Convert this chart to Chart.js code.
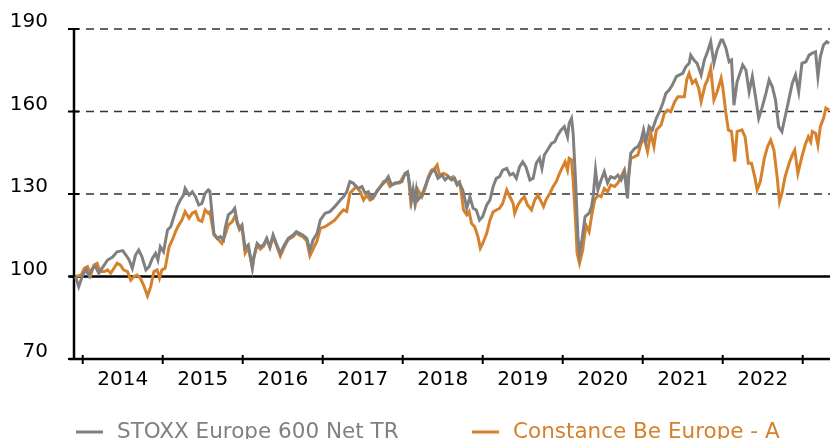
<!DOCTYPE html>
<html>
<head>
<meta charset="utf-8">
<script src="https://cdn.jsdelivr.net/npm/chart.js@4"></script>
<style>
  html, body { margin: 0; padding: 0; background: #fff; }
  canvas { display: block; }
</style>
</head>
<body>
<canvas id="perfChart" width="830" height="439"></canvas>
<script>
// series names and tick labels
var seriesNames = ['STOXX Europe 600 Net TR', 'Constance Be Europe - A'];
var yearLabels = ['2014', '2015', '2016', '2017', '2018', '2019', '2020', '2021', '2022'];
var yTicks = [70, 100, 130, 160, 190];

// STOXX Europe 600 Net TR (rebased 100), dates as decimal years
var stoxxDates = [
  2013.91, 2013.95,
  2014.00, 2014.04, 2014.08, 2014.12, 2014.16, 2014.20, 2014.27, 2014.31, 2014.37, 2014.43, 2014.50, 2014.54, 2014.58, 2014.62, 2014.66, 2014.70, 2014.74, 2014.79, 2014.83, 2014.87, 2014.91, 2014.94, 2014.97,
  2015.01, 2015.06, 2015.10, 2015.14, 2015.18, 2015.22, 2015.26, 2015.28, 2015.33, 2015.37, 2015.41, 2015.45, 2015.49, 2015.53, 2015.57, 2015.59, 2015.61, 2015.64, 2015.68, 2015.72, 2015.76, 2015.78, 2015.82, 2015.87, 2015.90, 2015.93, 2015.96, 2015.99,
  2016.03, 2016.07, 2016.12, 2016.14, 2016.18, 2016.22, 2016.26, 2016.30, 2016.34, 2016.38, 2016.42, 2016.47, 2016.52, 2016.57, 2016.63, 2016.67, 2016.71, 2016.75, 2016.80, 2016.84, 2016.88, 2016.93, 2016.97,
  2017.03, 2017.09, 2017.15, 2017.22, 2017.26, 2017.30, 2017.34, 2017.38, 2017.44, 2017.49, 2017.53, 2017.57, 2017.61, 2017.65, 2017.69, 2017.74, 2017.78, 2017.82, 2017.86, 2017.92, 2017.99,
  2018.03, 2018.06, 2018.09, 2018.11, 2018.13, 2018.15, 2018.17, 2018.19, 2018.24, 2018.28, 2018.32, 2018.36, 2018.40, 2018.44, 2018.49, 2018.53, 2018.57, 2018.61, 2018.65, 2018.68, 2018.71, 2018.75, 2018.78, 2018.80, 2018.84, 2018.88, 2018.92, 2018.96,
  2019.00, 2019.05, 2019.09, 2019.13, 2019.17, 2019.21, 2019.25, 2019.30, 2019.34, 2019.38, 2019.42, 2019.46, 2019.50, 2019.54, 2019.59, 2019.63, 2019.67, 2019.71, 2019.74, 2019.77, 2019.81, 2019.86, 2019.90, 2019.94, 2019.98,
  2020.02, 2020.06, 2020.08, 2020.11, 2020.13, 2020.16, 2020.19, 2020.21, 2020.24, 2020.28, 2020.33, 2020.36, 2020.38, 2020.41, 2020.44, 2020.48, 2020.52, 2020.56, 2020.60, 2020.65, 2020.69, 2020.73, 2020.77, 2020.81, 2020.83, 2020.85, 2020.90, 2020.94, 2020.98,
  2021.01, 2021.04, 2021.08, 2021.12, 2021.17, 2021.21, 2021.25, 2021.29, 2021.33, 2021.37, 2021.42, 2021.46, 2021.50, 2021.54, 2021.58, 2021.60, 2021.64, 2021.68, 2021.73, 2021.77, 2021.81, 2021.85, 2021.89, 2021.93, 2021.98,
  2022.00, 2022.04, 2022.08, 2022.11, 2022.14, 2022.18, 2022.25, 2022.29, 2022.33, 2022.37, 2022.41, 2022.45, 2022.49, 2022.54, 2022.58, 2022.62, 2022.66, 2022.70, 2022.74, 2022.78, 2022.83, 2022.87, 2022.91, 2022.95, 2022.99,
  2023.04, 2023.08, 2023.12, 2023.16, 2023.19, 2023.22, 2023.26, 2023.30, 2023.33
];
var stoxxValues = [
  100, 96.3,
  100.5, 102.4, 100.2, 103, 103.6, 101.2, 104.2, 106, 107, 109, 109.4, 107.8, 106, 103, 107.8, 109.6, 107.2, 102.4, 103.6, 106.6, 108.4, 106, 110.8,
  109, 116.9, 118.1, 121.8, 125.4, 127.8, 129.6, 132, 129.6, 130.8, 129, 126, 126.6, 130.3, 131.5, 131, 124.8, 115.7, 113.9, 114.5, 113.3, 117.5, 122.4, 123.6, 124.8, 120, 117.5, 118.7,
  110.3, 111.5, 103, 107.2, 112, 110.8, 111.5, 113.9, 110.8, 115.1, 112, 108.4, 111.5, 113.9, 115.1, 116.3, 115.7, 115.1, 113.9, 109.6, 113.3, 115.7, 120.5,
  123, 123.6, 125.4, 127.8, 129, 130.8, 134.5, 134, 132, 132.7, 130.3, 130.8, 128.4, 129.6, 131.5, 133.3, 134.5, 136.3, 133.3, 134, 134.5,
  137.5, 138.1, 132.7, 127.8, 131.5, 127.2, 131.5, 127.8, 129.6, 132.7, 135.7, 138.1, 138.7, 135.7, 136.9, 135.1, 136.3, 135.1, 135.7, 133.3, 134, 131.5, 127.8, 124.8, 129, 124.8, 124.2, 120.5,
  121.8, 126, 127.8, 132.7, 135.7, 136.3, 138.7, 139.3, 136.9, 137.5, 135.7, 139.9, 141.7, 139.9, 135.1, 135.7, 141.2, 143, 139.3, 144.2, 146, 148.4, 149, 151.5, 153.3,
  154.5, 150.8, 155.7, 157.5, 152.1, 135.1, 114.5, 108.4, 113.3, 121.8, 123, 125.4, 129, 138.7, 131.5, 135.1, 138.1, 134, 136.3, 135.7, 136.9, 135.1, 138.1, 128.4, 138.7, 144.8, 146.6, 147.2, 149.6,
  153.3, 149, 154.5, 153.3, 157.5, 159.9, 162.9, 166.6, 167.8, 169.6, 172.7, 173.3, 173.9, 176.3, 177.5, 180.5, 178.7, 177.5, 173.3, 178.7, 181.7, 185.4, 177.5, 182.4, 186,
  186, 183, 178.1, 178.7, 162.3, 170.8, 176.9, 175.1, 167.2, 172.7, 165.4, 157.5, 161.2, 166.6, 171.5, 169, 164.2, 154.5, 152.7, 158.1, 164.8, 170.3, 173.3, 167.2, 177.5,
  178.1, 180.5, 181.2, 181.7, 172.7, 179.9, 184.2, 185.4, 184.8
];

// Constance Be Europe - A (rebased 100)
var fundDates = [
  2013.91, 2013.98,
  2014.02, 2014.06, 2014.10, 2014.14, 2014.18, 2014.22, 2014.27, 2014.31, 2014.35, 2014.39, 2014.43, 2014.47, 2014.51, 2014.56, 2014.60, 2014.64, 2014.68, 2014.72, 2014.76, 2014.81, 2014.85, 2014.89, 2014.93, 2014.96, 2014.99,
  2015.03, 2015.08, 2015.12, 2015.16, 2015.20, 2015.24, 2015.28, 2015.33, 2015.37, 2015.41, 2015.45, 2015.49, 2015.53, 2015.57, 2015.59, 2015.64, 2015.70, 2015.74, 2015.78, 2015.82, 2015.87, 2015.91, 2015.93, 2015.96, 2015.99,
  2016.03, 2016.07, 2016.12, 2016.14, 2016.18, 2016.22, 2016.26, 2016.30, 2016.34, 2016.38, 2016.42, 2016.47, 2016.52, 2016.57, 2016.63, 2016.67, 2016.71, 2016.75, 2016.80, 2016.84, 2016.88, 2016.93, 2016.97,
  2017.03, 2017.09, 2017.15, 2017.22, 2017.26, 2017.30, 2017.34, 2017.38, 2017.42, 2017.47, 2017.51, 2017.55, 2017.59, 2017.63, 2017.67, 2017.72, 2017.76, 2017.80, 2017.84, 2017.90, 2017.96,
  2018.03, 2018.07, 2018.10, 2018.13, 2018.16, 2018.19, 2018.24, 2018.28, 2018.32, 2018.36, 2018.40, 2018.43, 2018.46, 2018.51, 2018.55, 2018.59, 2018.63, 2018.67, 2018.71, 2018.73, 2018.76, 2018.80, 2018.83, 2018.86, 2018.90, 2018.94, 2018.97,
  2019.00, 2019.05, 2019.09, 2019.13, 2019.17, 2019.21, 2019.25, 2019.30, 2019.34, 2019.38, 2019.40, 2019.44, 2019.48, 2019.52, 2019.56, 2019.61, 2019.65, 2019.69, 2019.73, 2019.76, 2019.79, 2019.84, 2019.88, 2019.92, 2019.96,
  2020.00, 2020.03, 2020.06, 2020.08, 2020.11, 2020.13, 2020.16, 2020.18, 2020.21, 2020.25, 2020.29, 2020.33, 2020.36, 2020.40, 2020.44, 2020.48, 2020.52, 2020.56, 2020.60, 2020.65, 2020.69, 2020.73, 2020.77, 2020.81, 2020.85, 2020.90, 2020.94, 2020.98,
  2021.02, 2021.06, 2021.10, 2021.14, 2021.17, 2021.23, 2021.27, 2021.31, 2021.35, 2021.40, 2021.44, 2021.48, 2021.52, 2021.55, 2021.58, 2021.62, 2021.66, 2021.70, 2021.73, 2021.78, 2021.81, 2021.85, 2021.89, 2021.93, 2021.98,
  2022.00, 2022.04, 2022.07, 2022.11, 2022.15, 2022.18, 2022.24, 2022.28, 2022.32, 2022.36, 2022.40, 2022.43, 2022.47, 2022.52, 2022.56, 2022.60, 2022.64, 2022.68, 2022.71, 2022.74, 2022.78, 2022.83, 2022.87, 2022.90, 2022.94, 2022.99,
  2023.03, 2023.07, 2023.10, 2023.12, 2023.16, 2023.19, 2023.22, 2023.26, 2023.29, 2023.33
];
var fundValues = [
  100, 100.5,
  103, 103.6, 100.5, 104.2, 104.8, 101.8, 101.8, 102.4, 101.2, 103, 104.8, 104.2, 102.4, 101.8, 98.7, 100, 100.5, 99.4, 96.9, 92.9, 96.3, 101.8, 102.4, 99.4, 102.4,
  103, 110.8, 113.3, 116.3, 118.7, 120.5, 123.6, 121.2, 123, 123.6, 120.5, 120, 124.2, 123, 123.5, 115.1, 113.3, 112, 115.1, 118.7, 120, 122.4, 119.5, 117, 118,
  108.5, 110.5, 103.5, 107, 111.5, 110, 111, 113.5, 110.5, 114.5, 111.5, 107.5, 110.8, 113.5, 114.5, 115.8, 115, 114.5, 113, 107.5, 110, 113, 117.5,
  118.1, 119.3, 120.5, 123, 124.2, 123.6, 130.3, 131.5, 132.7, 130.8, 127.8, 129.6, 127.8, 128.4, 130.8, 132.7, 134.5, 135.1, 132.7, 134, 134,
  137.5, 136.9, 127.2, 130.8, 126.6, 131.5, 129, 132, 136.3, 138.7, 139.3, 140.5, 136.9, 137.5, 136.9, 135.7, 136.3, 134, 134.5, 130.8, 124.2, 122.4, 123.6, 119.3, 118.1, 114.5, 110.3,
  112, 115.7, 120.5, 123.5, 124.2, 124.8, 126.6, 131.5, 129, 126.6, 123, 126, 127.8, 129, 126, 124.2, 127.8, 129.6, 127.2, 125.4, 127.8, 130.3, 132.7, 134.5, 137.5,
  139.9, 141.7, 138.7, 143, 142.4, 135.1, 120.5, 108.4, 104.8, 109.6, 118.7, 116.3, 121.8, 127.8, 129.6, 129, 132, 130.8, 133.3, 132.7, 134, 136.3, 138.7, 133, 143, 143.6, 144.2, 148.4,
  150.2, 145.4, 152.1, 147.2, 153.3, 155.1, 159.3, 160.5, 159.9, 163.6, 165.4, 165.4, 165.4, 171.5, 173.9, 170.3, 171.5, 168.4, 163.6, 169.6, 171.5, 175.7, 164.2, 167.2, 172.1,
  169, 159.3, 153.3, 152.7, 141.8, 152.7, 153.3, 150.8, 141.2, 141.2, 136.3, 131.5, 134.5, 143, 147.2, 149.6, 146, 136.3, 127.2, 130.3, 136.3, 141.2, 144.2, 146, 137.5, 143.6,
  147.8, 150.8, 149, 152.7, 152.1, 147.8, 154.5, 157.5, 161.2, 160.5
];

var grayColor = '#808080';
var orangeColor = '#d6812b';
var fontFamily = '"DejaVu Sans", sans-serif';

function toPoints(dates, values) {
  return dates.map(function (d, i) { return { x: d, y: values[i] }; });
}

// grid lines, axis lines and tick marks
var framePlugin = {
  id: 'frame',
  beforeDatasetsDraw: function (chart) {
    var ctx = chart.ctx, a = chart.chartArea;
    var x = chart.scales.x, y = chart.scales.y;
    ctx.save();
    yTicks.forEach(function (v) {
      if (v === yTicks[0]) return;
      var py = y.getPixelForValue(v);
      ctx.beginPath();
      if (v === 100) {
        ctx.setLineDash([]);
        ctx.lineWidth = 2.5;
        ctx.strokeStyle = '#000';
        ctx.moveTo(a.left - 5, py);
      } else {
        ctx.setLineDash([8, 6]);
        ctx.lineWidth = 1.6;
        ctx.strokeStyle = '#333';
        ctx.moveTo(a.left - 2, py);
      }
      ctx.lineTo(a.right, py);
      ctx.stroke();
    });
    ctx.setLineDash([]);
    ctx.strokeStyle = '#000';
    // y ticks
    ctx.lineWidth = 2;
    yTicks.forEach(function (v) {
      var py = y.getPixelForValue(v);
      ctx.beginPath();
      ctx.moveTo(a.left - 6, py);
      ctx.lineTo(a.left + 5, py);
      ctx.stroke();
    });
    // x ticks at year boundaries
    for (var yr = +yearLabels[0]; yr <= +yearLabels[yearLabels.length - 1] + 1; yr++) {
      var px = x.getPixelForValue(yr);
      ctx.beginPath();
      ctx.moveTo(px, a.bottom - 4);
      ctx.lineTo(px, a.bottom + 5);
      ctx.stroke();
    }
    // axes
    ctx.lineWidth = 2.5;
    ctx.beginPath();
    ctx.moveTo(a.left, a.top);
    ctx.lineTo(a.left, a.bottom);
    ctx.moveTo(a.left - 5, a.bottom);
    ctx.lineTo(a.right, a.bottom);
    ctx.stroke();
    ctx.restore();
  },
  afterDraw: function (chart) {
    var ctx = chart.ctx;
    var items = [
      { text: seriesNames[0], color: grayColor, x: 76 },
      { text: seriesNames[1], color: orangeColor, x: 472 }
    ];
    ctx.save();
    ctx.font = '21.5px ' + fontFamily;
    ctx.textBaseline = 'alphabetic';
    items.forEach(function (it) {
      ctx.fillStyle = it.color;
      ctx.fillRect(it.x, 430.5, 27, 3);
      ctx.fillText(it.text, it.x + 41, 437.5);
    });
    ctx.restore();
  }
};

var ctx = document.getElementById('perfChart').getContext('2d');
var perfChart = new Chart(ctx, {
  type: 'line',
  data: {
    datasets: [{
      label: seriesNames[0],
      data: toPoints(stoxxDates, stoxxValues),
      borderColor: grayColor,
      borderWidth: 3,
      pointRadius: 0,
      tension: 0,
      fill: false
    }, {
      label: seriesNames[1],
      data: toPoints(fundDates, fundValues),
      borderColor: orangeColor,
      borderWidth: 3,
      pointRadius: 0,
      tension: 0,
      fill: false
    }]
  },
  options: {
    responsive: false,
    animation: false,
    devicePixelRatio: 1,
    layout: { padding: { top: 29, left: 0, right: 0, bottom: 0 } },
    plugins: {
      legend: { display: false },
      tooltip: { enabled: false }
    },
    scales: {
      x: {
        type: 'linear',
        min: 2013.891,
        max: 2023.341,
        grid: { display: false, drawTicks: false },
        border: { display: false },
        afterBuildTicks: function (scale) {
          scale.ticks = yearLabels.map(function (y) { return { value: +y + 0.5 }; });
        },
        afterFit: function (scale) {
          scale.height = 80;
          scale.paddingLeft = 0;
          scale.paddingRight = 0;
        },
        ticks: {
          autoSkip: false,
          maxRotation: 0,
          padding: 9,
          color: '#000',
          font: { family: fontFamily, size: 20 },
          callback: function (value, index) { return yearLabels[index]; }
        }
      },
      y: {
        min: 70,
        max: 190,
        grid: { display: false, drawTicks: false },
        border: { display: false },
        afterBuildTicks: function (scale) {
          scale.ticks = yTicks.map(function (v) { return { value: v }; });
        },
        afterFit: function (scale) {
          scale.width = 74;
          scale.paddingTop = 0;
          scale.paddingBottom = 0;
        },
        ticks: {
          padding: 26,
          labelOffset: -7,
          color: '#000',
          font: { family: fontFamily, size: 20 },
          callback: function (value) { return String(value); }
        }
      }
    }
  },
  plugins: [framePlugin]
});
</script>
</body>
</html>
